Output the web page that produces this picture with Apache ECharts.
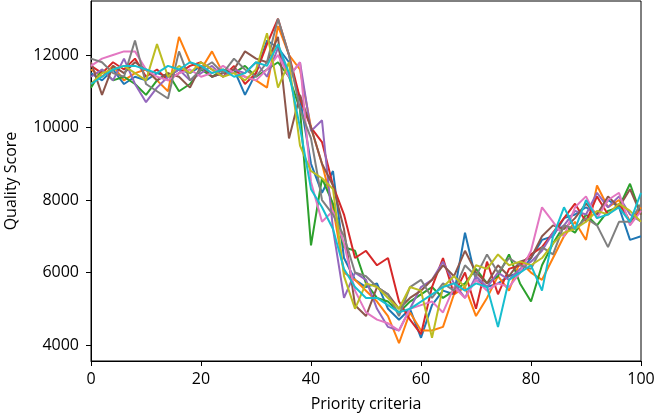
<!DOCTYPE html>
<html>
<head>
<meta charset="utf-8">
<script src="https://cdn.jsdelivr.net/npm/echarts@6/dist/echarts.min.js"></script>
<style>
html,body{margin:0;padding:0;background:#fff;}
#chart{width:656px;height:416px;}
</style>
</head>
<body>
<div id="chart"></div>
<script>
// x positions (priority criteria)
const xValues = [0,2,4,6,8,10,12,14,16,18,20,22,24,26,28,30,32,34,36,38,40,42,44,46,48,50,52,54,56,58,60,62,64,66,68,70,72,74,76,78,80,82,84,86,88,90,92,94,96,98,100];
const yTicks = [4000, 6000, 8000, 10000, 12000];
const xTicks = [0, 20, 40, 60, 80, 100];

const s1 = [11500,11300,11600,11200,11400,11300,11500,11400,11600,11500,11700,11400,11500,11600,10900,11500,12400,12200,11800,10800,9000,8200,8800,6400,5800,5600,5700,5000,4700,5000,4200,5100,5500,5400,7100,5800,5600,5700,5900,6000,6400,6900,7000,7500,7600,7800,7600,8000,7800,6900,7000];
const s2 = [11600,11400,11700,11300,11500,11600,11300,11000,12500,11800,11600,12100,11500,11600,11400,11300,11100,12800,12000,11600,10000,9000,7800,6000,5800,5500,5200,4800,4050,4900,4400,4400,4500,5400,5600,4800,5300,5900,5500,6300,6000,5800,6400,7000,7400,6900,8400,7800,8000,7400,7800];
const s3 = [11100,11600,11300,11400,11200,10900,11300,11500,11000,11200,11600,11400,11600,11500,11700,11400,11600,11800,11400,10500,6750,8600,7900,6700,6600,5700,5300,5200,4900,5200,5400,5600,5300,5500,5700,6100,5700,5900,6500,5700,5200,6200,6800,7300,7100,7600,7300,7700,7800,8450,7600];
const s4 = [11700,11500,11800,11600,11900,11400,11600,11300,11500,11700,11800,11600,11400,11700,11200,11500,12300,13000,12000,10800,10000,9600,8400,7600,6400,6600,6200,6400,5200,4700,4300,5600,6400,5400,6000,5000,6300,5400,6100,6200,6500,6700,7100,7500,7900,7400,8100,7600,7900,7400,7700];
const s5 = [11400,11600,11300,11900,11200,10700,11100,11400,11600,11300,11500,11700,11400,11600,11500,11800,11400,12200,11400,11800,9900,10200,7200,5300,6000,5800,5000,4500,4400,5000,5600,5800,6300,5700,5300,5900,5600,6000,5800,6100,6300,6600,7100,7300,7700,7600,8200,7800,8100,7600,7400];
const s6 = [11800,10900,11700,11500,11800,11600,11300,11500,11400,11100,11700,11400,11500,11600,12100,11900,11800,12500,9700,10900,10000,9000,8400,7200,5100,4800,5600,5400,5000,5300,5500,5800,6200,5900,6600,6000,5700,6200,5900,6300,6400,7000,7300,7200,7500,7900,7600,8100,7800,8300,7600];
const s7 = [11700,11900,12000,12100,12100,11600,11400,11300,11500,11600,11400,11500,11700,11500,11400,11300,11600,12000,11400,11800,8500,7400,7700,6800,5500,4900,4700,4600,4400,5000,5100,5200,4900,5600,5300,5800,5500,5700,5600,6000,6600,7800,7400,7000,7800,8100,7500,8000,8200,7300,7700];
const s8 = [11900,11800,11500,11400,12400,11200,11000,10800,12100,11300,11600,11800,11500,11900,11600,11400,11800,13000,12000,10500,9700,8000,7600,7000,6000,5900,5600,5400,4800,5600,5800,5300,5700,5500,6200,5900,6500,6000,6400,6200,6100,6700,6500,7300,7200,7500,7300,6700,7400,7400,7900];
const s9 = [11200,11500,11600,11700,11500,11300,12300,11400,11700,11500,11800,11600,11400,11500,11300,11600,12600,11100,11800,9500,8800,8600,8300,5900,5000,5700,5600,5300,5000,5600,5500,4200,5600,5900,5600,6200,6100,6500,6200,6300,6200,6400,6800,7100,7200,7400,7700,7600,7900,7700,7400];
const s10 = [11200,11400,11600,11700,11700,11600,11500,11700,11600,11800,11700,11500,11600,11400,11500,11800,11700,12300,11500,10000,8300,7800,7200,6100,5600,5300,5300,5100,4900,5000,5200,5400,5600,5700,5500,5700,5600,4500,5800,6000,6200,5500,7000,7800,7200,8000,7500,7600,7800,7400,8200];

const seriesValues = [s1,s2,s3,s4,s5,s6,s7,s8,s9,s10];
const colors = ['#1f77b4','#ff7f0e','#2ca02c','#d62728','#9467bd','#8c564b','#e377c2','#7f7f7f','#bcbd22','#17becf'];

const chart = echarts.init(document.getElementById('chart'), null, {renderer:'canvas'});
const font = "'Open Sans', 'DejaVu Sans', sans-serif";
chart.setOption({
  animation: false,
  backgroundColor: '#fff',
  grid: {left: 91, right: 15, top: 1, bottom: 55, containLabel: false, outerBoundsMode: 'none', show: true, borderColor: '#000', borderWidth: 1},
  xAxis: {
    type: 'value', min: 0, max: 100, interval: 20,
    name: 'Priority criteria', nameLocation: 'middle', nameGap: 35,
    nameTextStyle: {fontSize: 16, color: '#000', fontFamily: font},
    axisLine: {show: true, lineStyle: {color: '#000', width: 1}},
    axisTick: {show: true, inside: false, length: 5, lineStyle: {color: '#000'}},
    axisLabel: {fontSize: 16, color: '#000', fontFamily: font, margin: 10, formatter: v => String(v)},
    splitLine: {show: false}
  },
  yAxis: {
    type: 'value', min: 3560, max: 13490,
    name: 'Quality Score', nameLocation: 'middle', nameGap: 72,
    nameTextStyle: {fontSize: 16, color: '#000', fontFamily: font},
    axisLine: {show: true, lineStyle: {color: '#000', width: 1}},
    axisTick: {show: true, inside: false, length: 5, lineStyle: {color: '#000'}, customValues: yTicks},
    axisLabel: {fontSize: 16, color: '#000', fontFamily: font, margin: 12, customValues: yTicks, formatter: v => String(v)},
    splitLine: {show: false}
  },
  series: seriesValues.map((vals, i) => ({
    type: 'line',
    data: vals.map((v, j) => [xValues[j], v]),
    symbol: 'none',
    lineStyle: {width: 2, color: colors[i]},
    itemStyle: {color: colors[i]},
    z: 2 + i
  }))
});
</script>
</body>
</html>
